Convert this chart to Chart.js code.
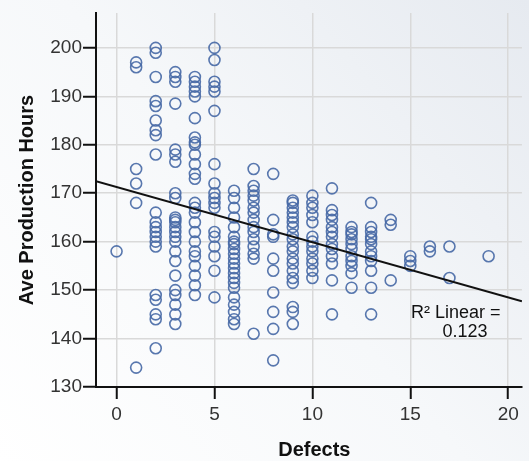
<!DOCTYPE html>
<html>
<head>
<meta charset="utf-8">
<script src="https://cdn.jsdelivr.net/npm/chart.js@4"></script>
<style>
  html, body { margin: 0; padding: 0; background: #fff; }
  #wrap { width: 529px; height: 461px; }
</style>
</head>
<body>
<div id="wrap"><canvas id="chart" width="529" height="461"></canvas></div>
<script>
// values: hours for each defect count
const defectLevels = [0, 1, 2, 3, 4, 5, 6, 7, 8, 9, 10, 11, 12, 13, 14, 15, 16, 17, 19];
const hoursAtLevel = [
    [158],
    [197, 196, 175, 172, 168, 134],
    [200, 199, 194, 189, 188, 185, 183, 182, 178, 166, 164, 163, 162, 161, 160, 159, 149, 148, 145, 144, 138],
    [195, 194, 193, 188.5, 179, 178, 176.5, 170, 169, 165, 164.5, 164, 163, 162, 161, 160, 158, 156, 153, 150, 149, 147, 145, 143],
    [194, 193, 192, 191, 190, 185.5, 181.5, 180.5, 180, 178, 176, 174, 173, 168, 167, 166, 164, 162, 160, 158, 157, 155, 153, 151, 149],
    [200, 197.5, 193, 192, 191, 187, 176, 172, 170, 169, 168, 167, 162, 161, 159, 157, 154, 148.5],
    [170.5, 169, 167, 165, 163, 161, 160, 159.5, 158.5, 157.5, 156.5, 155.5, 154.5, 153.5, 152.5, 151.5, 150.5, 148.5, 147, 145.5, 144, 143],
    [175, 171.5, 170.5, 169.5, 168.5, 167, 166, 164.5, 163, 162, 160.5, 159, 157.5, 156.5, 141],
    [174, 164.5, 161.5, 161, 156.5, 154, 149.5, 145.5, 142, 135.5],
    [168.5, 168, 167, 166, 165, 164, 163, 161.5, 160.5, 159, 158, 156.5, 155.5, 154, 152.5, 151.5, 146.5, 145.5, 143],
    [169.5, 168, 167, 165.5, 164, 161, 160, 159, 158, 156.5, 155.5, 154, 152.5],
    [171, 166.5, 165.5, 164.5, 163, 162, 161, 159.5, 158.5, 157, 155.5, 152, 145],
    [163, 162, 161.5, 160.5, 159.5, 158.5, 157, 156, 155, 153.5, 150.5],
    [168, 163, 162, 161, 160.5, 159.5, 158, 157, 156, 154, 150.5, 145],
    [164.5, 163.5, 152],
    [157, 156, 155],
    [159, 158],
    [159, 152.5],
    [157]
];

const xTicks = [0, 5, 10, 15, 20];
const yTicks = [130, 140, 150, 160, 170, 180, 190, 200];
const xRange = [-1.05, 20.7];
const yRange = [130, 207.2];

// fit line as printed by the chart
const fitIntercept = 171.3;
const fitSlope = -1.14;
const rSquared = "0.123";

const points = [];
defectLevels.forEach((d, i) => {
    hoursAtLevel[i].forEach(h => points.push({ x: d, y: h }));
});

const fitLine = xRange.map(x => ({ x: x, y: fitIntercept + fitSlope * x }));

const FONT = "'Liberation Sans', Arial, sans-serif";

const background = {
    id: "background",
    beforeDraw(chart) {
        const ctx = chart.ctx;
        const g = ctx.createLinearGradient(0, chart.height, chart.width, 0);
        g.addColorStop(0, "#ffffff");
        g.addColorStop(0.5, "#f6f8fa");
        g.addColorStop(1, "#e6eaf0");
        ctx.save();
        ctx.fillStyle = g;
        ctx.fillRect(0, 0, chart.width, chart.height);
        ctx.restore();
    }
};

// R² note and the x title (the original plot is cropped on the right,
// so its title sits a little right of the visible axis centre)
const labels = {
    id: "labels",
    afterDraw(chart) {
        const ctx = chart.ctx;
        const area = chart.chartArea;
        ctx.save();
        ctx.font = "18px " + FONT;
        ctx.fillStyle = "#111";
        ctx.textAlign = "left";
        ctx.textBaseline = "middle";
        ctx.fillText("R\u00b2 Linear =", area.right - 111, area.bottom - 74);
        ctx.textAlign = "center";
        ctx.fillText(rSquared, area.right - 57, area.bottom - 55);
        ctx.font = "bold 20px " + FONT;
        ctx.fillText("Defects", chart.scales.x.getPixelForValue(10.1), 450);
        ctx.restore();
    }
};

new Chart(document.getElementById("chart"), {
    type: "scatter",
    data: {
        datasets: [
            {
                type: "line",
                data: fitLine,
                borderColor: "#111",
                borderWidth: 2,
                pointRadius: 0,
                fill: false
            },
            {
                data: points,
                pointStyle: "circle",
                pointRadius: 5.5,
                pointBorderWidth: 1.6,
                pointBackgroundColor: "rgba(0,0,0,0)",
                pointBorderColor: "rgba(70,104,165,0.9)"
            }
        ]
    },
    options: {
        responsive: false,
        animation: false,
        layout: { padding: { top: 13, right: 0, bottom: 0, left: 0 } },
        plugins: {
            legend: { display: false },
            tooltip: { enabled: false }
        },
        scales: {
            x: {
                type: "linear",
                min: xRange[0],
                max: xRange[1],
                afterBuildTicks: s => { s.ticks = xTicks.map(v => ({ value: v })); },
                afterFit: s => { s.height = 74; },
                grid: { color: "#d9d9d9", lineWidth: 1.5, tickColor: "#111", tickWidth: 2, tickLength: 12 },
                border: { color: "#111", width: 2 },
                ticks: { color: "#333", font: { family: FONT, size: 19 }, padding: 4, maxRotation: 0 },
                title: { display: false }
            },
            y: {
                type: "linear",
                min: yRange[0],
                max: yRange[1],
                afterBuildTicks: s => { s.ticks = yTicks.map(v => ({ value: v })); },
                afterFit: s => { s.width = 96; },
                grid: { color: "#d9d9d9", lineWidth: 1.5, tickColor: "#111", tickWidth: 2, tickLength: 13 },
                border: { color: "#111", width: 2 },
                ticks: { color: "#333", font: { family: FONT, size: 19 }, padding: 1 },
                title: {
                    display: true,
                    text: "Ave Production Hours",
                    color: "#111",
                    font: { family: FONT, size: 20, weight: "bold", lineHeight: 1 },
                    padding: { top: 17, bottom: 0 }
                }
            }
        }
    },
    plugins: [background, labels]
});
</script>
</body>
</html>
